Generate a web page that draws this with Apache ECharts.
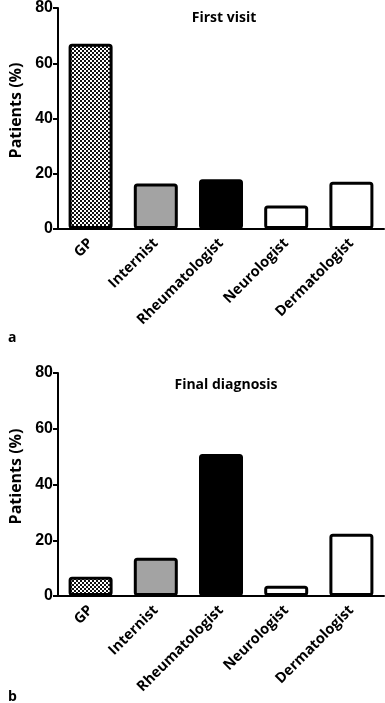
<!DOCTYPE html>
<html>
<head>
<meta charset="utf-8">
<script src="https://cdn.jsdelivr.net/npm/echarts@6/dist/echarts.min.js"></script>
<style>
html,body{margin:0;padding:0;background:#fff;}
#c{width:385px;height:703px;}
</style>
</head>
<body>
<div id="c"></div>
<script>
const categories = ['GP', 'Internist', 'Rheumatologist', 'Neurologist', 'Dermatologist'];
const firstVisit = [67.1, 16.5, 18, 8.5, 17.1];
const finalDiagnosis = [6.9, 13.7, 50.9, 3.7, 22.3];
const panelTitles = ['First visit', 'Final diagnosis'];
const panelLetters = ['a', 'b'];
const yAxisName = 'Patients (%)';

// checkerboard pattern for GP
const pc = document.createElement('canvas');
pc.width = 4; pc.height = 4;
const px = pc.getContext('2d');
px.fillStyle = '#ffffff'; px.fillRect(0, 0, 4, 4);
px.fillStyle = '#111111';
px.fillRect(0, 0, 2, 2); px.fillRect(2, 2, 2, 2);
const fills = [{image: pc, repeat: 'repeat'}, '#a3a3a3', '#000000', '#ffffff', '#ffffff'];

const chart = echarts.init(document.getElementById('c'));
const catFont = '"Open Sans", "Noto Sans", sans-serif';
const grids = [
  {left: 49, width: 335, top: 6, height: 223},
  {left: 49, width: 335, top: 373, height: 223}
];
function xAxis(i) {
  return {
    type: 'category', gridIndex: i, data: categories, boundaryGap: true,
    axisLine: {lineStyle: {color: '#000', width: 2}},
    axisTick: {alignWithLabel: true, length: 6, lineStyle: {color: '#000', width: 2}},
    axisLabel: {rotate: 45, interval: 0, margin: 12, color: '#000', fontFamily: catFont, fontWeight: 'bold', fontSize: 14.5}
  };
}
function yAxis(i) {
  return {
    type: 'value', gridIndex: i, min: 0, max: 80, interval: 20,
    name: yAxisName, nameLocation: 'middle', nameGap: 34,
    nameTextStyle: {color: '#000', fontFamily: catFont, fontWeight: 'bold', fontSize: 16, padding: [0, 0, 0, 16]},
    axisLine: {show: true, lineStyle: {color: '#000', width: 2}},
    axisTick: {show: true, length: 5, lineStyle: {color: '#000', width: 2}},
    splitLine: {show: false},
    axisLabel: {color: '#000', fontFamily: '"Liberation Sans", Arial, sans-serif', fontWeight: 'bold', fontSize: 16, margin: 5}
  };
}
function series(i, vals) {
  return {
    type: 'bar', xAxisIndex: i, yAxisIndex: i, barWidth: 44,
    data: vals.map((v, k) => ({value: v, itemStyle: {color: fills[k]}})),
    itemStyle: {borderColor: '#000', borderWidth: 3, borderRadius: 2},
    silent: true
  };
}
const titleStyle = {fontFamily: catFont, fontWeight: 'bold', fontSize: 14, color: '#000'};
chart.setOption({
  animation: false,
  grid: grids,
  xAxis: [xAxis(0), xAxis(1)],
  yAxis: [yAxis(0), yAxis(1)],
  title: [
    {text: panelTitles[0], left: 219, top: 6, textAlign: 'center', textStyle: titleStyle},
    {text: panelTitles[1], left: 221, top: 373, textAlign: 'center', textStyle: titleStyle},
    {text: panelLetters[0], left: 3, top: 326, textStyle: titleStyle},
    {text: panelLetters[1], left: 3, top: 685, textStyle: titleStyle}
  ],
  series: [series(0, firstVisit), series(1, finalDiagnosis)]
});
</script>
</body>
</html>
